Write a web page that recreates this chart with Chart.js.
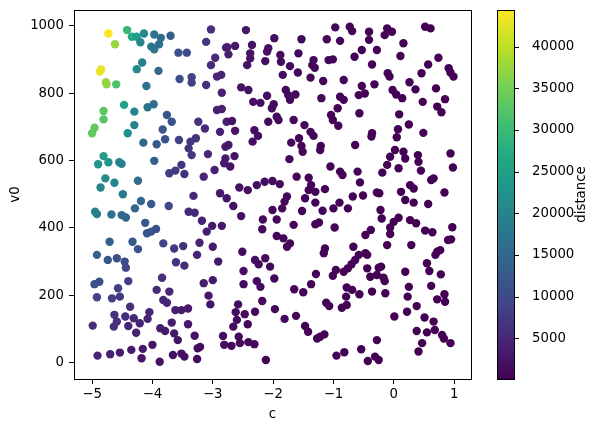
<!DOCTYPE html>
<html>
<head>
<meta charset="utf-8">
<script src="https://cdn.jsdelivr.net/npm/chart.js@4.4.1/dist/chart.umd.min.js"></script>
<style>
  html, body { margin: 0; padding: 0; background: #fff; }
  #wrap { width: 597px; height: 432px; }
</style>
</head>
<body>
<div id="wrap"><canvas id="chart" width="597" height="432"></canvas></div>
<script>
// scatter of c vs v0, coloured by distance (viridis), with a colorbar on the right

const xTicks = [-5, -4, -3, -2, -1, 0, 1];
const yTicks = [0, 200, 400, 600, 800, 1000];
const cbTicks = [5000, 10000, 15000, 20000, 25000, 30000, 35000, 40000];

// rows are [c, v0, distance], grouped by the part of the plot they sit in
const topLeft = [
  [-4.73, 977, 44400], [-4.42, 987, 29500], [-4.62, 945, 37500], [-4.34, 967, 27000], [-4.26, 967, 24500],
  [-4.14, 977, 20500], [-4.20, 951, 20500], [-3.97, 974, 17500], [-3.86, 964, 16000], [-3.89, 945, 16000],
  [-4.02, 938, 17800], [-3.97, 930, 17000], [-3.70, 970, 13000], [-3.57, 920, 11500], [-3.43, 920, 10000],
  [-3.03, 989, 6200], [-3.11, 952, 6500], [-2.78, 935, 4300], [-2.96, 905, 5200], [-3.03, 883, 5500],
  [-2.74, 915, 4000], [-4.17, 891, 19500], [-4.26, 871, 21000], [-3.90, 866, 15000], [-4.85, 870, 43000],
  [-4.87, 864, 43000], [-4.77, 832, 37500], [-4.76, 826, 37000], [-4.60, 826, 32000], [-4.10, 821, 17000],
  [-3.55, 842, 10500], [-3.35, 847, 8800], [-3.35, 831, 8600], [-3.11, 824, 6000], [-2.93, 849, 4800],
  [-2.86, 854, 4500], [-2.85, 801, 4200], [-4.47, 765, 25500], [-4.81, 747, 33000], [-4.81, 722, 32500],
  [-4.30, 745, 20000], [-4.08, 758, 17000], [-3.98, 767, 16000], [-4.30, 705, 19500], [-3.76, 735, 12000],
  [-3.68, 715, 11000], [-3.83, 692, 12500], [-2.93, 750, 4300], [-2.85, 753, 4000], [-3.24, 715, 6300],
  [-3.13, 695, 5500], [-2.88, 685, 4000], [-2.77, 715, 3600], [-4.96, 697, 33500], [-5.00, 681, 33500],
  [-4.41, 681, 22000]
];

const topMid = [
  [-2.76, 936, 3500], [-2.63, 940, 3000], [-2.45, 987, 2800], [-1.98, 963, 1750], [-1.53, 960, 1150],
  [-0.97, 995, 700], [-0.73, 997, 560], [-0.69, 984, 550], [-0.41, 982, 420], [-0.41, 958, 410],
  [-1.11, 960, 780], [-0.89, 955, 640], [-2.35, 943, 2500], [-2.38, 918, 2500], [-2.38, 903, 2450],
  [-2.43, 883, 2500], [-2.08, 933, 1850], [-2.10, 923, 1850], [-2.13, 895, 1850], [-1.88, 913, 1500],
  [-1.87, 893, 1450], [-1.72, 880, 1250], [-1.58, 918, 1150], [-1.59, 861, 1100], [-1.84, 854, 1400],
  [-1.33, 898, 900], [-1.35, 883, 900], [-1.31, 875, 860], [-1.38, 846, 880], [-1.17, 836, 740],
  [-1.08, 898, 740], [-1.01, 900, 690], [-0.83, 839, 540], [-0.65, 908, 480], [-0.53, 928, 440],
  [-0.36, 885, 370], [-0.32, 826, 340], [-2.53, 817, 2500], [-2.41, 809, 2200], [-2.33, 774, 1950],
  [-2.21, 771, 1800], [-2.10, 792, 1650], [-1.99, 767, 1450], [-2.02, 755, 1450], [-1.79, 809, 1250],
  [-1.75, 794, 1200], [-1.72, 780, 1150], [-1.63, 796, 1080], [-1.20, 785, 700], [-0.89, 789, 540],
  [-0.83, 780, 500], [-0.53, 821, 390], [-0.48, 799, 360], [-0.58, 794, 400], [-0.93, 755, 520],
  [-1.04, 735, 580], [-1.01, 720, 560], [-0.92, 703, 500], [-0.57, 740, 370], [-2.68, 717, 2600],
  [-2.63, 688, 2400], [-2.31, 690, 1750], [-2.08, 715, 1450], [-1.94, 730, 1300], [-1.91, 720, 1250],
  [-1.66, 720, 1000], [-1.48, 705, 850], [-1.38, 685, 750], [-0.36, 681, 290]
];

const topRight = [
  [-0.11, 992, 330], [-0.03, 982, 300], [-0.15, 972, 340], [0.52, 997, 180], [0.61, 992, 170],
  [0.16, 948, 250], [-0.28, 928, 360], [0.11, 910, 250], [0.74, 905, 140], [0.57, 885, 160],
  [0.46, 859, 170], [0.91, 874, 130], [0.94, 861, 125], [0.99, 849, 120], [-0.10, 859, 290],
  [-0.07, 849, 280], [0.26, 832, 210], [0.36, 811, 190], [0.70, 814, 140], [-0.02, 809, 250],
  [0.04, 796, 240], [0.14, 785, 220], [0.48, 774, 160], [0.85, 782, 125], [0.72, 760, 130],
  [0.79, 743, 125], [0.09, 737, 210], [0.25, 707, 175], [0.07, 693, 200], [0.49, 682, 140]
];

const midLeft = [
  [-4.15, 653, 14700], [-3.93, 648, 12500], [-3.79, 663, 11000], [-3.56, 661, 8900], [-3.37, 656, 7200],
  [-3.28, 666, 6800], [-3.40, 636, 7200], [-3.35, 616, 6700], [-3.08, 619, 5000], [-2.79, 641, 3500],
  [-2.79, 606, 3300], [-3.97, 599, 13400], [-4.81, 613, 24500], [-4.90, 589, 22500], [-4.73, 595, 23000],
  [-4.55, 595, 20000], [-4.51, 590, 19500], [-4.78, 547, 21500], [-4.63, 534, 20000], [-4.86, 520, 20500],
  [-4.24, 540, 15500], [-4.49, 500, 17800], [-3.72, 562, 8100], [-3.62, 570, 7500], [-3.52, 587, 7000],
  [-3.47, 560, 6500], [-3.15, 552, 4600], [-2.97, 572, 4000], [-2.81, 592, 3300], [-2.88, 503, 3100],
  [-2.77, 488, 2700], [-3.32, 495, 5200], [-4.19, 480, 14700], [-4.29, 458, 14700], [-4.02, 471, 12500],
  [-3.73, 465, 9700], [-4.95, 448, 20000], [-4.92, 441, 19500], [-4.68, 440, 16900], [-4.51, 438, 15600],
  [-4.44, 431, 14500], [-3.40, 448, 5300], [-3.30, 445, 4900], [-3.18, 421, 4200], [-3.01, 406, 3400],
  [-2.85, 406, 2900], [-3.10, 389, 3600], [-4.12, 415, 12500], [-4.09, 384, 12000], [-4.02, 389, 11500],
  [-3.94, 397, 10800], [-3.82, 354, 8970], [-3.64, 339, 7500], [-3.49, 346, 6500], [-3.22, 356, 4500],
  [-3.26, 320, 4400], [-3.00, 344, 3400], [-4.71, 359, 13400], [-4.33, 359, 12500], [-4.24, 337, 11000],
  [-4.92, 320, 13400]
];

const midMid = [
  [-2.25, 673, 1700], [-2.34, 656, 1800], [-2.74, 646, 2900], [-2.64, 613, 2500], [-2.71, 582, 2500],
  [-1.70, 653, 1000], [-1.53, 643, 850], [-1.57, 666, 900], [-1.51, 626, 820], [-1.33, 673, 720],
  [-1.21, 643, 620], [-1.22, 631, 610], [-1.73, 604, 950], [-0.37, 671, 280], [-0.64, 646, 340],
  [-1.05, 582, 450], [-0.89, 567, 400], [-0.85, 557, 380], [-0.60, 567, 320], [-0.56, 535, 300],
  [-1.61, 552, 780], [-1.41, 549, 650], [-1.37, 527, 600], [-1.41, 512, 600], [-1.30, 507, 540],
  [-1.14, 515, 470], [-1.47, 488, 600], [-1.30, 475, 500], [-2.56, 520, 2100], [-2.42, 512, 1900],
  [-2.27, 527, 1700], [-2.14, 537, 1600], [-2.01, 539, 1400], [-1.89, 530, 1250], [-2.66, 465, 2100],
  [-2.53, 435, 1750], [-1.77, 493, 1000], [-1.81, 478, 1000], [-1.85, 458, 1000], [-2.01, 453, 1150],
  [-2.17, 425, 1200], [-1.94, 425, 1000], [-2.18, 396, 1100], [-1.66, 409, 750], [-1.52, 450, 700],
  [-1.30, 411, 500], [-1.24, 416, 480], [-1.18, 451, 480], [-1.00, 458, 400], [-0.90, 475, 380],
  [-0.76, 458, 330], [-0.68, 493, 330], [-0.51, 496, 280], [-0.28, 505, 230], [-0.98, 401, 350],
  [-1.94, 376, 850], [-1.83, 369, 780], [-1.72, 354, 680], [-1.77, 344, 680], [-1.14, 339, 380],
  [-1.16, 325, 360], [-2.51, 329, 1300], [-0.67, 344, 250], [-0.47, 325, 210], [-0.47, 379, 230],
  [-0.38, 394, 220]
];

const midRight = [
  [0.05, 669, 190], [0.02, 631, 185], [0.16, 626, 165], [0.19, 606, 160], [-0.06, 611, 190],
  [-0.11, 587, 190], [-0.19, 564, 190], [0.08, 577, 160], [0.40, 616, 130], [0.41, 596, 128],
  [0.45, 570, 125], [0.94, 621, 120], [0.98, 579, 120], [0.62, 542, 125], [0.66, 547, 125],
  [0.27, 527, 140], [0.33, 517, 135], [0.12, 507, 145], [-0.24, 503, 180], [0.84, 505, 120],
  [0.19, 483, 135], [0.33, 475, 130], [0.57, 471, 122], [-0.22, 453, 165], [-0.20, 428, 160],
  [0.08, 430, 135], [0.00, 418, 140], [0.27, 423, 125], [0.37, 414, 122], [-0.06, 401, 140],
  [-0.06, 382, 135], [0.52, 392, 118], [0.64, 387, 118], [0.97, 402, 117], [0.90, 364, 117],
  [0.95, 366, 117], [-0.11, 349, 130], [0.29, 349, 120], [0.72, 329, 117], [0.77, 334, 117],
  [0.69, 320, 117]
];

const lowLeft = [
  [-4.74, 305, 12000], [-4.59, 310, 11000], [-4.46, 300, 10000], [-4.44, 282, 9500], [-4.96, 233, 11000],
  [-4.88, 240, 10500], [-4.57, 221, 8500], [-4.67, 191, 8000], [-4.54, 196, 7500], [-4.40, 242, 8000],
  [-4.92, 194, 9000], [-4.99, 110, 6000], [-4.91, 21, 4500], [-4.70, 25, 4000], [-4.54, 30, 3700],
  [-4.35, 38, 3300], [-4.16, 41, 3000], [-4.18, 13, 2800], [-4.00, 53, 2700], [-3.88, 3, 2200],
  [-3.66, 23, 2000], [-3.52, 27, 1800], [-3.47, 18, 1700], [-3.26, 11, 1500], [-3.21, 47, 1500],
  [-3.25, 43, 1500], [-4.63, 142, 6500], [-4.64, 107, 5800], [-4.59, 122, 6000], [-4.45, 137, 5800],
  [-4.37, 166, 6000], [-4.40, 109, 5000], [-4.31, 132, 5200], [-4.27, 89, 4300], [-4.21, 117, 4600],
  [-4.08, 130, 4500], [-4.05, 150, 4800], [-3.84, 252, 6000], [-3.93, 216, 5500], [-3.72, 211, 4800],
  [-3.82, 186, 4800], [-3.76, 178, 4500], [-3.62, 156, 3800], [-3.52, 156, 3500], [-3.41, 161, 3300],
  [-3.68, 119, 3500], [-3.87, 102, 3800], [-3.79, 94, 3500], [-3.64, 87, 3000], [-3.58, 67, 2700],
  [-3.41, 114, 2800], [-3.30, 80, 2300], [-3.61, 298, 6500], [-3.47, 288, 5800], [-2.91, 300, 3200],
  [-3.15, 236, 3500], [-3.00, 245, 3000], [-3.07, 199, 2800], [-3.04, 173, 2500], [-2.83, 79, 1500],
  [-2.81, 53, 1400]
];

const lowMid = [
  [-2.30, 305, 1700], [-2.24, 292, 1550], [-2.13, 310, 1450], [-2.05, 285, 1300], [-2.49, 272, 1800],
  [-2.49, 233, 1600], [-2.27, 242, 1400], [-2.21, 225, 1300], [-1.98, 250, 1050], [-2.18, 183, 1100],
  [-1.97, 159, 900], [-2.30, 151, 1100], [-2.58, 173, 1500], [-2.62, 150, 1400], [-2.47, 144, 1250],
  [-2.60, 127, 1300], [-2.66, 107, 1300], [-2.42, 114, 1100], [-2.69, 50, 1100], [-2.57, 77, 1100],
  [-2.55, 58, 1000], [-2.41, 61, 950], [-2.31, 55, 850], [-2.12, 8, 600], [-1.81, 130, 650],
  [-1.62, 139, 560], [-1.65, 218, 700], [-1.50, 209, 600], [-1.37, 233, 550], [-1.29, 263, 550],
  [-1.47, 109, 450], [-1.42, 92, 420], [-1.27, 72, 350], [-1.15, 84, 330], [-1.22, 77, 340],
  [-1.12, 178, 400], [-1.07, 168, 380], [-1.01, 258, 450], [-0.96, 275, 450], [-0.83, 270, 400],
  [-0.76, 280, 380], [-0.70, 292, 380], [-0.64, 305, 370], [-0.58, 320, 370], [-0.44, 320, 310],
  [-0.44, 280, 290], [-0.39, 255, 270], [-0.25, 282, 250], [-0.78, 223, 320], [-0.69, 216, 300],
  [-0.79, 196, 300], [-0.78, 171, 280], [-0.86, 163, 280], [-0.57, 203, 260], [-0.36, 211, 230],
  [-0.95, 21, 180], [-0.82, 31, 170], [-0.54, 40, 150], [-0.43, 5, 116], [-0.31, 18, 125],
  [-0.28, 67, 150]
];

const lowRight = [
  [-0.21, 285, 230], [-0.28, 260, 230], [-0.17, 252, 210], [-0.15, 242, 200], [-0.14, 206, 180],
  [0.19, 270, 170], [0.25, 225, 150], [0.23, 196, 145], [0.55, 295, 140], [0.59, 272, 135],
  [0.78, 262, 125], [0.62, 228, 125], [0.38, 168, 125], [0.22, 151, 130], [0.01, 137, 140],
  [0.72, 188, 120], [0.84, 203, 118], [0.85, 181, 118], [0.51, 134, 120], [0.66, 122, 118],
  [0.68, 97, 118], [0.55, 90, 118], [0.38, 94, 120], [0.80, 82, 117], [0.83, 72, 117],
  [0.94, 58, 117], [0.47, 58, 118], [0.41, 33, 118], [-0.25, 8, 120]
];

const rows = [].concat(topLeft, topMid, topRight, midLeft, midMid, midRight, lowLeft, lowMid, lowRight);

// axis limits (matplotlib auto margins)
const X_MIN = -5.30, X_MAX = 1.28;
const Y_MIN = -48.4, Y_MAX = 1046.6;
const CB_MIN = 116, CB_MAX = 44404;

const FONT = "DejaVu Sans";
const FONT_SIZE = 13.3;

// viridis, sampled every 0.1
const VIRIDIS = ["#440154", "#482475", "#414487", "#355f8d", "#2a788e", "#21918c",
                 "#22a884", "#44bf70", "#7ad151", "#bddf26", "#fde725"];

function hexRgb(hex) {
  const h = hex.replace("#", "");
  return [0, 2, 4].map((i) => parseInt(h.substring(i, i + 2), 16));
}

function viridis(t) {
  t = Math.min(1, Math.max(0, t));
  const pos = t * (VIRIDIS.length - 1);
  const i = Math.min(VIRIDIS.length - 2, Math.floor(pos));
  const f = pos - i;
  const a = hexRgb(VIRIDIS[i]), b = hexRgb(VIRIDIS[i + 1]);
  const c = a.map((v, k) => Math.round(v + (b[k] - v) * f));
  return `rgb(${c[0]}, ${c[1]}, ${c[2]})`;
}

const minus = (v) => (v < 0 ? "\u2212" + Math.abs(v) : String(v));

// fixed box sizes; also drop the label half-height padding chart.js adds
function fixBox(size) {
  return (s) => {
    if (s.isHorizontal()) s.height = size; else s.width = size;
    s.paddingTop = 0; s.paddingBottom = 0; s.paddingLeft = 0; s.paddingRight = 0;
  };
}

// frame around the axes + the colorbar strip next to the cb scale
const frameAndColorbar = {
  id: "frameAndColorbar",
  afterDatasetsDraw(chart) {
    const { ctx, chartArea: a } = chart;
    const cb = chart.scales.cb;
    ctx.save();
    ctx.strokeStyle = "#000";
    ctx.lineWidth = 1;
    ctx.strokeRect(a.left + 0.5, a.top + 0.5, a.right - a.left, a.bottom - a.top);

    const top = cb.getPixelForValue(CB_MAX);
    const bottom = cb.getPixelForValue(CB_MIN);
    const left = a.right + 26;
    const w = 17;
    const grad = ctx.createLinearGradient(0, bottom, 0, top);
    VIRIDIS.forEach((c, i) => grad.addColorStop(i / (VIRIDIS.length - 1), c));
    ctx.fillStyle = grad;
    ctx.fillRect(left, top, w, bottom - top);
    ctx.strokeRect(left + 0.5, top + 0.5, w, bottom - top);

    cb.ticks.forEach((t) => {
      const y = Math.round(cb.getPixelForValue(t.value)) + 0.5;
      ctx.beginPath();
      ctx.moveTo(left + w, y);
      ctx.lineTo(left + w + 5, y);
      ctx.stroke();
    });

    ctx.fillStyle = "#000";
    ctx.font = `${FONT_SIZE}px "${FONT}"`;
    ctx.textAlign = "center";
    ctx.textBaseline = "alphabetic";
    ctx.translate(585, (top + bottom) / 2);
    ctx.rotate(-Math.PI / 2);
    ctx.fillText("distance", 0, 0);
    ctx.restore();
  },
};

const tickFont = { family: FONT, size: FONT_SIZE };

new Chart(document.getElementById("chart").getContext("2d"), {
  type: "scatter",
  data: {
    datasets: [{
      data: rows.map((r) => ({ x: r[0], y: r[1] })),
      pointBackgroundColor: rows.map((r) => viridis((r[2] - CB_MIN) / (CB_MAX - CB_MIN))),
      pointBorderWidth: 0,
      pointRadius: 4.2,
      pointHoverRadius: 4.2,
    }],
  },
  options: {
    responsive: false,
    animation: false,
    events: [],
    layout: { padding: { top: 10, left: 0, right: 0, bottom: 0 } },
    plugins: { legend: { display: false }, tooltip: { enabled: false } },
    scales: {
      x: {
        type: "linear",
        min: X_MIN,
        max: X_MAX,
        afterBuildTicks: (s) => { s.ticks = xTicks.map((v) => ({ value: v })); },
        afterFit: fixBox(53),
        grid: { drawOnChartArea: false, tickLength: 5, color: "#000" },
        border: { display: false },
        ticks: { font: tickFont, color: "#000", padding: 3, maxRotation: 0, callback: (v) => minus(v) },
        title: { display: true, text: "c", font: tickFont, color: "#000", padding: { top: 0, bottom: 9 } },
      },
      y: {
        type: "linear",
        position: "left",
        min: Y_MIN,
        max: Y_MAX,
        afterBuildTicks: (s) => { s.ticks = yTicks.map((v) => ({ value: v })); },
        afterFit: fixBox(74),
        grid: { drawOnChartArea: false, tickLength: 5, color: "#000" },
        border: { display: false },
        ticks: { font: tickFont, color: "#000", padding: 5, callback: (v) => minus(v) },
        title: { display: true, text: "v0", font: tickFont, color: "#000", padding: { top: 7.5, bottom: 0 } },
      },
      cb: {
        type: "linear",
        position: "right",
        min: CB_MIN,
        max: CB_MAX,
        afterBuildTicks: (s) => { s.ticks = cbTicks.map((v) => ({ value: v })); },
        afterFit: fixBox(126),
        grid: { display: false },
        border: { display: false },
        ticks: { font: tickFont, color: "#000", padding: 53, callback: (v) => String(v) },
      },
    },
  },
  plugins: [frameAndColorbar],
});
</script>
</body>
</html>
